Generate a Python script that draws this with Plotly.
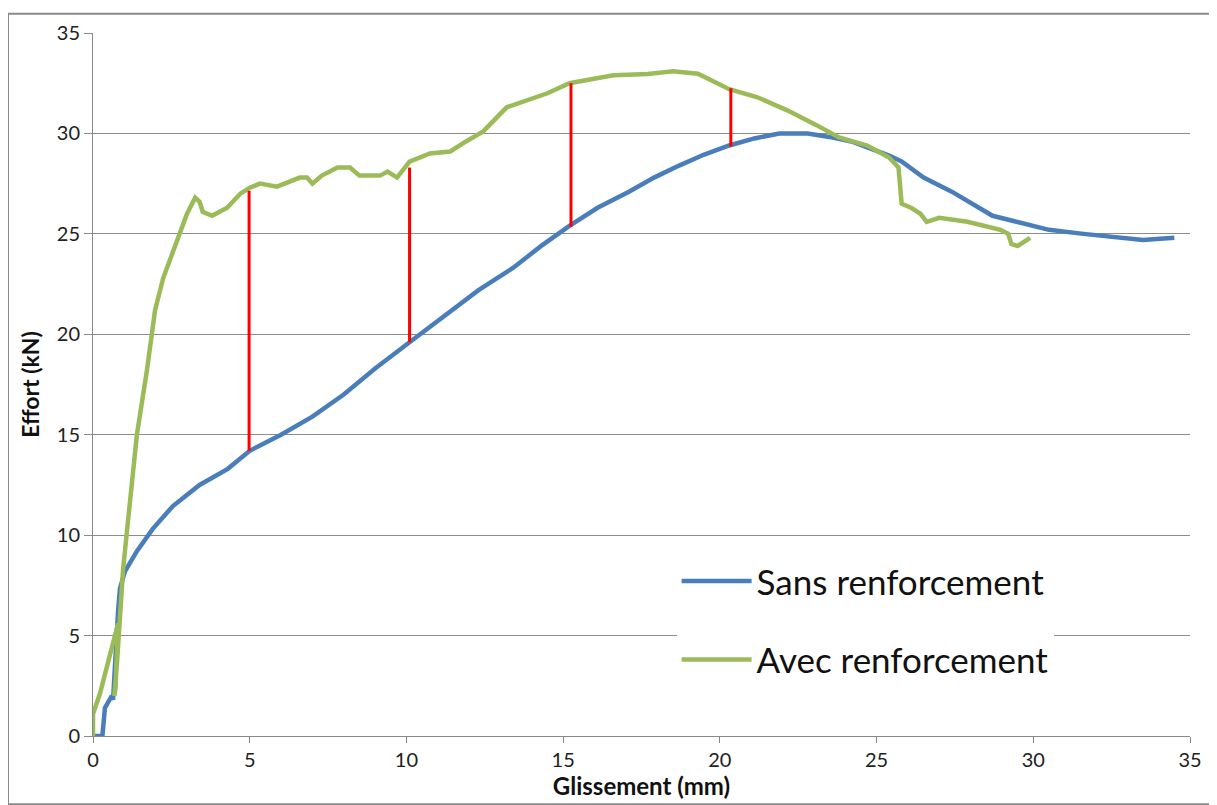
import plotly.graph_objects as go

# Sans renforcement (blue)
sans_x = [0, 0.3, 0.38, 0.54, 0.6, 0.64, 0.7, 0.8, 0.86, 1.02, 1.4, 1.9, 2.55, 3.4, 4.3, 5.0,
          6.0, 7.0, 8.0, 9.0, 10.1, 11.3, 12.3, 13.4, 14.3, 15.2, 16.1, 17.1, 17.9, 18.7, 19.5,
          20.3, 21.1, 21.9, 22.8, 23.6, 24.2, 25.4, 25.8, 26.5, 27.4, 28.7, 29.5, 30.5, 31.6,
          32.7, 33.5, 34.5]
sans_y = [0, 0, 1.4, 1.9, 2.0, 1.8, 3.75, 6.2, 7.35, 8.2, 9.2, 10.3, 11.45, 12.5, 13.3, 14.2,
          15.0, 15.9, 17.0, 18.3, 19.6, 21.0, 22.2, 23.3, 24.4, 25.4, 26.3, 27.1, 27.8, 28.4, 28.95,
          29.4, 29.75, 30.0, 30.0, 29.8, 29.6, 28.9, 28.6, 27.8, 27.1, 25.9, 25.6, 25.2, 25.0,
          24.8, 24.7, 24.8]

# Avec renforcement (green)
avec_x = [0, 0.0, 0.22, 0.54, 0.8, 0.72, 0.68, 0.76, 0.86, 0.96, 1.07, 1.4, 1.72, 1.98, 2.24,
          2.68, 3.0, 3.26, 3.4, 3.5, 3.8, 4.28, 4.7, 5.0, 5.33, 5.87, 6.6, 6.83, 7.0, 7.3, 7.8,
          8.2, 8.5, 9.16, 9.4, 9.7, 10.1, 10.75, 11.4, 11.9, 12.45, 13.2, 13.95, 14.5, 15.2,
          16.6, 17.7, 18.5, 19.3, 20.3, 21.2, 22.15, 23.1, 23.8, 24.7, 25.4, 25.7, 25.8, 26.1,
          26.4, 26.6, 27.0, 27.9, 28.95, 29.2, 29.3, 29.5, 29.9]
avec_y = [0, 1.1, 2.1, 4.1, 5.6, 2.4, 2.0, 3.5, 5.8, 8.3, 10.0, 15.0, 18.2, 21.2, 22.8,
          24.6, 26.0, 26.8, 26.6, 26.1, 25.9, 26.3, 27.0, 27.3, 27.5, 27.35, 27.8, 27.8, 27.5,
          27.9, 28.3, 28.3, 27.9, 27.9, 28.1, 27.8, 28.6, 29.0, 29.1, 29.6, 30.1, 31.3, 31.7,
          32.0, 32.5, 32.9, 32.96, 33.1, 32.97, 32.2, 31.8, 31.15, 30.4, 29.8, 29.4, 28.8, 28.3,
          26.5, 26.3, 26.0, 25.6, 25.8, 25.6, 25.2, 25.0, 24.5, 24.4, 24.8]

# Red gap markers
gap_x = [4.98, 10.1, 15.25, 20.35]
gap_low = [14.2, 19.6, 25.35, 29.35]
gap_high = [27.15, 28.3, 32.5, 32.25]

x_ticks = [0, 5, 10, 15, 20, 25, 30, 35]
y_ticks = [0, 5, 10, 15, 20, 25, 30, 35]

FONT = "Lato"

fig = go.Figure()

rx, ry = [], []
for xv, lo, hi in zip(gap_x, gap_low, gap_high):
    rx += [xv, xv, None]
    ry += [lo, hi, None]

fig.add_trace(go.Scatter(x=sans_x, y=sans_y, mode="lines", name="Sans renforcement",
                         line=dict(color="#4A7EBB", width=4.5), legendgroup="a"))
fig.add_trace(go.Scatter(x=avec_x, y=avec_y, mode="lines", name="Avec renforcement",
                         line=dict(color="#9BBB59", width=4.5), legendgroup="b"))
fig.add_trace(go.Scatter(x=rx, y=ry, mode="lines", showlegend=False,
                         line=dict(color="#FF0000", width=3)))

# figure is placed at an 8px page offset; plot area at page (93..1190, 27..736)
fig.update_layout(
    width=1209, height=797,
    margin=dict(l=85, r=27, t=19, b=69),
    paper_bgcolor="white", plot_bgcolor="white",
    font=dict(family=FONT, color="#222"),
    legend=dict(x=0.532, y=0.262, xanchor="left", yanchor="top",
                bgcolor="white", font=dict(size=35, family=FONT, color="#111"),
                tracegroupgap=30, itemwidth=70),
    xaxis=dict(range=[0, 35], tickvals=x_ticks, showgrid=False, zeroline=False,
               showline=True, linecolor="#888", linewidth=1,
               ticks="outside", ticklen=6, tickcolor="#888",
               tickfont=dict(size=20, family=FONT, color="#222"),
               title=dict(text="<b>Glissement (mm)</b>", font=dict(size=24, family=FONT, color="#111"),
                          standoff=5)),
    yaxis=dict(range=[0, 35], tickvals=y_ticks, showgrid=True, gridcolor="#8c8c8c", gridwidth=1,
               zeroline=False, showline=True, linecolor="#888", linewidth=1,
               ticks="outside", ticklen=8, tickcolor="#8c8c8c",
               tickfont=dict(size=20, family=FONT, color="#222"),
               title=dict(text="<b>Effort (kN)</b>", font=dict(size=23, family=FONT, color="#111"),
                          standoff=10)),
    shapes=[dict(type="rect", xref="paper", yref="paper",
                 x0=-85 / 1097, x1=(1208 - 85) / 1097, y0=-0.097, y1=(728 + 0.5) / 709,
                 line=dict(color="#8a8a8a", width=2), layer="below")],
)

fig.write_html("out.html")
